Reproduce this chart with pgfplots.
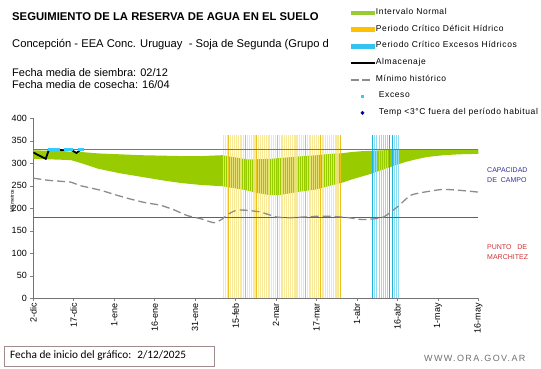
\documentclass[border=0pt]{standalone}
\usepackage{fontspec}
\setmainfont{Liberation Sans}
\newfontfamily\carlito{Carlito}
\newfontfamily\webfont[LetterSpace=15]{Liberation Sans}
\newfontfamily\legfont[LetterSpace=7]{Liberation Sans}
\usepackage{pgfplots}
\pgfplotsset{compat=1.18}
\definecolor{verde}{HTML}{99CC00}
\definecolor{amarillo}{HTML}{F7E58A}
\definecolor{oro}{HTML}{EBC31C}
\definecolor{celeste}{HTML}{8FDDF2}
\definecolor{celesteosc}{HTML}{1FB3D8}
\definecolor{capblue}{HTML}{4F7EC8}
\definecolor{pmred}{HTML}{B83C3C}
\definecolor{gris}{HTML}{8C8C8C}
\definecolor{exceso}{HTML}{33CCFF}
\definecolor{tempblue}{HTML}{000099}
\definecolor{legdef}{HTML}{FFC000}
\definecolor{legexc}{HTML}{33C3EE}
\definecolor{legverde}{HTML}{99CC33}
\definecolor{captext}{HTML}{333399}
\definecolor{pmtext}{HTML}{CC3333}
\definecolor{boxc}{HTML}{A08C8C}
\definecolor{webgray}{HTML}{707070}
\begin{document}
\begin{tikzpicture}
\useasboundingbox (-33.3pt,-69.7pt) rectangle (507.7pt,298.3pt);
\begin{axis}[
  scale only axis, width=445pt, height=180pt,
  xmin=0, xmax=165, ymin=0, ymax=400,
  axis x line*=bottom, axis y line*=left,
  axis line style={gray!90!black, line width=0.8pt},
  xtick={0,15,...,165},
  xticklabels={2-dic,17-dic,1-ene,16-ene,31-ene,15-feb,2-mar,17-mar,1-abr,16-abr,1-may,16-may},
  ytick={0,50,...,400},
  tick align=outside, major tick length=3pt,
  tick style={gray, line width=0.6pt},
  ticklabel style={font=\fontsize{9}{10}\selectfont},
  xticklabel style={rotate=90, anchor=east, inner sep=1.5pt},
  /pgf/number format/assume math mode=true,
  ylabel={Milímetros},
  ylabel style={at={(axis description cs:-0.048,0.54)}, anchor=center, font=\fontsize{5}{5}\selectfont},
  legend style={at={(axis description cs:0.713,1.605)}, anchor=north west, draw=none, fill=none,
    font=\legfont\fontsize{8.5}{8.5}\selectfont, row sep=10.2pt, inner sep=0pt, outer sep=0pt,
    nodes={inner sep=0pt, outer sep=0pt, text height=5pt, text depth=1.5pt},
    column sep=2pt},
  legend cell align=left,
]
% green normal interval
\addplot[fill=verde, draw=none, forget plot] coordinates {
 (0,329)(5,328)(10,327)(14,326)(18,325)(24,322)(32,320)(40,318)(48,317)(55,316)(62,316)(70,318)(75,313)(79,309)(83,309)(88,310)(92,312)(96,314)(100,316)(105,318)(110,321)(114,322)(118,325)(122,327)(126,328)(130,329)(134,330)(140,330)(150,330)(165,331)
 (165,321)(158,320)(152,318)(146,314)(142,309)(138,303)(134,295)(130,287)(126,278)(122,271)(118,264)(114,256)(110,250)(105,242)(100,238)(96,234)(92,230)(88,229)(83,234)(79,240)(75,244)(70,249)(62,252)(55,256)(48,262)(40,270)(32,278)(24,288)(18,300)(14,307)(10,308)(5,309)(0,310)
} -- cycle;
% deficit period lines
\addplot[ycomb, amarillo, opacity=0.85, line width=1.2pt, forget plot] coordinates {
 (70.6,362)(71.4,362)(72.2,362)(73.0,362)(73.8,362)(74.6,362)(75.4,362)(76.2,362)(77.0,362)(77.8,362)(78.6,362)(79.4,362)(80.2,362)(81.0,362)(81.8,362)(82.6,362)(83.4,362)(84.2,362)(85.0,362)(85.8,362)(86.6,362)(87.4,362)(88.2,362)(89.0,362)(89.8,362)(90.6,362)(91.4,362)(92.2,362)(93.0,362)(93.8,362)(94.6,362)(95.4,362)(96.2,362)(97.0,362)(97.8,362)(98.6,362)(99.4,362)(100.2,362)(101.0,362)(101.8,362)(102.6,362)(103.4,362)(104.2,362)(105.0,362)(105.8,362)(106.6,362)(107.4,362)(108.2,362)(109.0,362)(109.8,362)(110.6,362)(111.4,362)(112.2,362)(113.0,362)(113.8,362)
};
\addplot[ycomb, oro, line width=0.8pt, forget plot] coordinates {
 (72.2,362)(78.6,362)(82.6,362)(90.6,362)(101.0,362)(106.6,362)(113.8,362)
};
% excess period lines
\addplot[ycomb, celeste, line width=0.8pt, forget plot] coordinates {
 (125.8,362)(126.6,362)(127.4,362)(128.2,362)(129.0,362)(129.8,362)(130.6,362)(131.4,362)(132.2,362)(133.0,362)(133.8,362)(134.6,362)(135.3,362)
};
\addplot[ycomb, celesteosc, line width=0.8pt, forget plot] coordinates {
 (125.8,362)(132.2,362)(133.0,362)
};
% capacidad de campo / punto de marchitez
\addplot[capblue, line width=0.7pt, forget plot] coordinates {(0,330)(165,330)};
\addplot[pmred, line width=0.7pt, forget plot] coordinates {(0,180)(165,180)};
% minimo historico
\addplot[gris, line width=1.3pt, dash pattern=on 8pt off 4pt, smooth, tension=0.4, forget plot] coordinates {
 (0,267)(6,262)(14,258)(17,251)(25,240)(31,229)(37,219)(42,212)(47,207)(52,197)(57,184)(62,177)(67,168)(70,176)(72,186)(75,195)(78,196)(84,192)(90,181)(95,179)(104,182)(111,182)(117,179)(122,175)(127,177)(130,181)(135,203)(140,229)(147,238)(152,242)(158,240)(165,236)
};
% almacenaje
\addplot[black, line width=1.8pt, forget plot] coordinates {
 (0,324)(4.6,310)(5.8,330)(9,330)(11,329)(14,330)(16,323)(17.5,330)(18.5,331)
};
% exceso
\addplot[only marks, mark=square*, mark size=1.2pt, exceso, forget plot] coordinates {
 (6,332)(7,332)(8,332)(9,332)(12,332)(13,332)(14,332)(17,332)(18,332)
};
% legend
\addlegendimage{black, solid, no markers, legend image code/.code={\path[draw=none] (0pt,-2pt) rectangle (23pt,2pt); \fill[legverde] (0pt,-1.7pt) rectangle (23pt,1.7pt);}}
\addlegendentry{Intervalo Normal}
\addlegendimage{black, solid, no markers, legend image code/.code={\path[draw=none] (0pt,-2pt) rectangle (23pt,2pt); \fill[legdef] (0pt,-1.7pt) rectangle (23pt,1.7pt);}}
\addlegendentry{Periodo Crítico Déficit Hídrico}
\addlegendimage{black, solid, no markers, legend image code/.code={\path[draw=none] (0pt,-2pt) rectangle (23pt,2pt); \fill[legexc] (0pt,-1.7pt) rectangle (23pt,1.7pt);}}
\addlegendentry{Periodo Crítico Excesos Hídricos}
\addlegendimage{black, solid, no markers, legend image code/.code={\path[draw=none] (0pt,-2pt) rectangle (23pt,2pt); \fill[black] (0pt,-0.9pt) rectangle (23pt,0.9pt);}}
\addlegendentry{Almacenaje}
\addlegendimage{black, solid, no markers, legend image code/.code={\path[draw=none] (0pt,-2pt) rectangle (23pt,2pt); \fill[gris] (0pt,-0.65pt) rectangle (7pt,0.65pt); \fill[gris] (11pt,-0.65pt) rectangle (18pt,0.65pt);}}
\addlegendentry{Mínimo histórico}
\addlegendimage{black, solid, no markers, legend image code/.code={\path[draw=none] (0pt,-2pt) rectangle (23pt,2pt); \fill[exceso] (10pt,-1.1pt) rectangle (12.2pt,1.1pt);}}
\addlegendentry{~Exceso}
\addlegendimage{black, solid, no markers, legend image code/.code={\path[draw=none] (0pt,-2pt) rectangle (23pt,2pt); \fill[tempblue] (10pt,0pt) -- (11.7pt,1.7pt) -- (13.4pt,0pt) -- (11.7pt,-1.7pt) -- cycle;}}
\addlegendentry{~Temp <3°C fuera del período habitual}
\end{axis}
% texts
\node[anchor=west, inner sep=0pt, font=\bfseries\fontsize{11.3}{12}\selectfont] at (-21.3pt,281.3pt) {SEGUIMIENTO DE LA RESERVA DE AGUA EN EL SUELO};
\node[anchor=west, inner sep=0pt, font=\fontsize{11.2}{12}\selectfont] at (-21.3pt,253.3pt) {Concepción - EEA Conc. Uruguay~ - Soja de Segunda (Grupo d};
\node[anchor=west, inner sep=0pt, font=\fontsize{11}{12}\selectfont] at (-21.3pt,225.3pt) {Fecha media de siembra: 02/12};
\node[anchor=west, inner sep=0pt, font=\fontsize{11}{12}\selectfont] at (-21.3pt,213.3pt) {Fecha media de cosecha: 16/04};
\node[anchor=west, inner sep=0pt, font=\fontsize{7}{7}\selectfont, text=captext] at (453.7pt,128.3pt) {CAPACIDAD};
\node[anchor=west, inner sep=0pt, font=\fontsize{7}{7}\selectfont, text=captext] at (453.7pt,118.3pt) {DE~ CAMPO};
\node[anchor=west, inner sep=0pt, font=\fontsize{7}{7}\selectfont, text=pmtext] at (453.7pt,51.6pt) {PUNTO~~ DE};
\node[anchor=west, inner sep=0pt, font=\fontsize{7}{7}\selectfont, text=pmtext] at (453.7pt,41.6pt) {MARCHITEZ};
\draw[boxc, line width=0.7pt] (-29.3pt,-67.7pt) rectangle (180.7pt,-47.7pt);
\node[anchor=west, inner sep=0pt, font=\carlito\fontsize{11.3}{12}\selectfont] at (-23.3pt,-57.7pt) {Fecha de inicio del gráfico:~ 2/12/2025};
\node[anchor=west, inner sep=0pt, font=\webfont\fontsize{9}{10}\selectfont, text=webgray] at (390.7pt,-59.7pt) {WWW.ORA.GOV.AR};
\end{tikzpicture}
\end{document}
